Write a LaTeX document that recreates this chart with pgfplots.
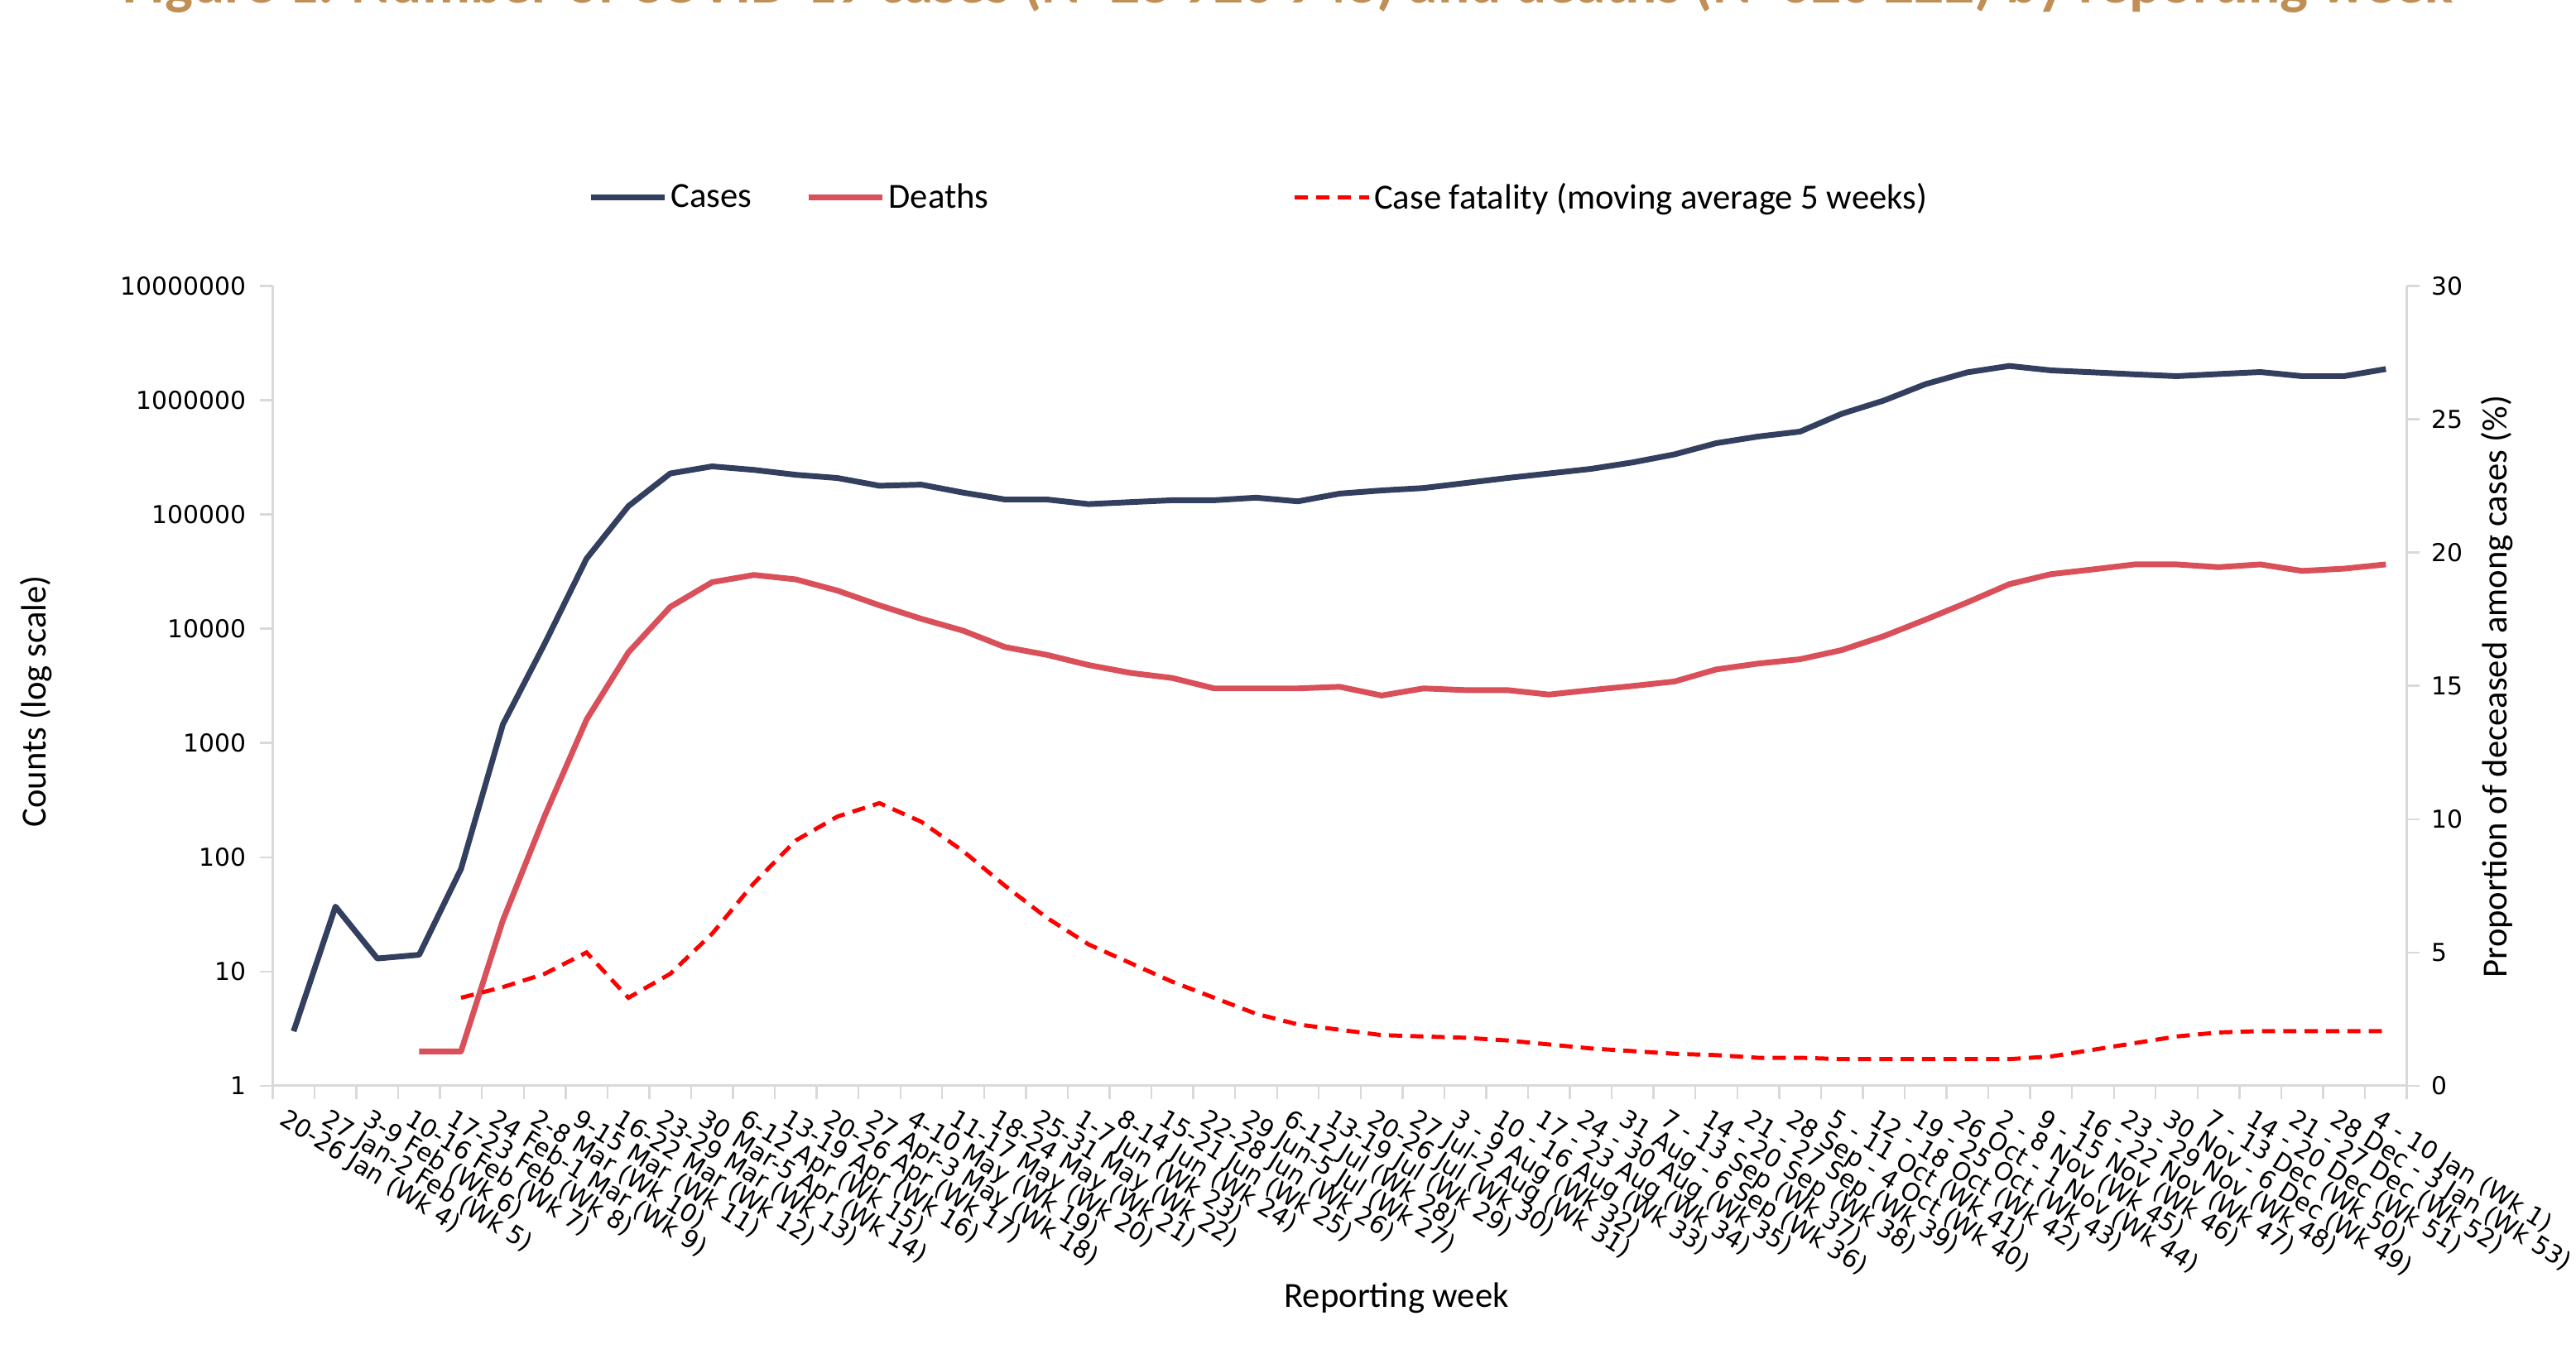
\documentclass[border=0pt]{standalone}
\usepackage{fontspec}
\setmainfont{Carlito}
\newfontfamily\dejavu{DejaVu Sans}
\usepackage{pgfplots}
\pgfplotsset{compat=1.18}
\usepackage{pgfplotstable}

\definecolor{casecol}{HTML}{323F5E}
\definecolor{deathcol}{HTML}{D9505A}
\definecolor{cfrcol}{HTML}{FF0000}
\definecolor{axisgray}{HTML}{D9D9D9}
\definecolor{titlecol}{HTML}{C08F55}

% week index (0 = Wk 4 ... 50 = Wk 1 of next year)
\pgfplotstableread{
x cases
0 3
1 37
2 13
3 14
4 79
5 1450
6 7400
7 41000
8 118000
9 228000
10 263000
11 245000
12 222000
13 208000
14 178000
15 182000
16 155000
17 135000
18 135000
19 123000
20 128000
21 133000
22 133000
23 140000
24 130000
25 152000
26 162000
27 170000
28 188000
29 208000
30 228000
31 250000
32 285000
33 335000
34 420000
35 480000
36 530000
37 760000
38 990000
39 1380000
40 1750000
41 1990000
42 1820000
43 1750000
44 1680000
45 1620000
46 1690000
47 1760000
48 1620000
49 1620000
50 1870000
}\casestable

\pgfplotstableread{
x deaths
3 2
4 2
5 28
6 230
7 1600
8 6200
9 15500
10 25500
11 29500
12 27000
13 21500
14 16000
15 12200
16 9600
17 6900
18 5900
19 4800
20 4100
21 3700
22 3000
23 3000
24 3000
25 3100
26 2600
27 3000
28 2900
29 2900
30 2650
31 2900
32 3150
33 3450
34 4400
35 4950
36 5400
37 6500
38 8600
39 12000
40 17000
41 24500
42 30000
43 33000
44 36500
45 36500
46 34500
47 36500
48 32000
49 33500
50 36500
}\deathstable

\pgfplotstableread{
x cfr
4 3.3
5 3.7
6 4.2
7 5.0
8 3.3
9 4.2
10 5.7
11 7.6
12 9.2
13 10.1
14 10.6
15 9.9
16 8.8
17 7.5
18 6.3
19 5.3
20 4.6
21 3.9
22 3.3
23 2.7
24 2.3
25 2.1
26 1.9
27 1.85
28 1.8
29 1.7
30 1.55
31 1.4
32 1.3
33 1.2
34 1.15
35 1.05
36 1.05
37 1.0
38 1.0
39 1.0
40 1.0
41 1.0
42 1.1
43 1.35
44 1.6
45 1.85
46 2.0
47 2.05
48 2.05
49 2.05
50 2.05
}\cfrtable

\pgfplotsset{
  base/.style={
    width=1299bp, height=487bp, scale only axis,
    xmin=-0.5, xmax=50.5,
    axis line style={draw=axisgray, line width=1.5bp},
    tick align=outside,
    major tick length=8bp,
    ytick style={draw=axisgray, line width=1.2bp},
    yticklabel style={font=\dejavu\fontsize{15bp}{18bp}\selectfont, inner sep=0pt},
  },
}

\begin{document}
\begin{tikzpicture}
\path[use as bounding box] (-166bp,-166bp) rectangle (1402bp,661bp);
\node[anchor=base, inner sep=0pt, text=titlecol,
      font=\fontsize{36bp}{42bp}\selectfont\bfseries] at (618bp,659bp)
  {Figure 1. Number of COVID-19 cases (N=28 926 948) and deaths (N=626 222) by reporting week};

\begin{axis}[base,
  ymode=log, ymin=1, ymax=10000000,
  ytick={1,10,100,1000,10000,100000,1000000,10000000},
  yticklabels={1,10,100,1000,10000,100000,1000000,10000000},
  yminorticks=false,
  yticklabel style={anchor=east, xshift=-8bp},
  axis x line*=bottom, axis y line*=left,
  xtick={0,...,50},
  xticklabels={20-26 Jan (Wk 4),27 Jan-2 Feb (Wk 5),3-9 Feb (Wk 6),10-16 Feb (Wk 7),17-23 Feb (Wk 8),24 Feb-1 Mar (Wk 9),2-8 Mar (Wk 10),9-15 Mar (Wk 11),16-22 Mar (Wk 12),23-29 Mar (Wk 13),30 Mar-5 Apr (Wk 14),6-12 Apr (Wk 15),13-19 Apr (Wk 16),20-26 Apr (Wk 17),27 Apr-3 May (Wk 18),4-10 May (Wk 19),11-17 May (Wk 20),18-24 May (Wk 21),25-31 May (Wk 22),1-7 Jun (Wk 23),8-14 Jun (Wk 24),15-21 Jun (Wk 25),22-28 Jun (Wk 26),29 Jun-5 Jul (Wk 27),6-12 Jul (Wk 28),13-19 Jul (Wk 29),20-26 Jul (Wk 30),27 Jul-2 Aug (Wk 31),3 - 9 Aug (Wk 32),10 - 16 Aug (Wk 33),17 - 23 Aug (Wk 34),24 - 30 Aug (Wk 35),31 Aug - 6 Sep (Wk 36),7 - 13 Sep (Wk 37),14 - 20 Sep (Wk 38),21 - 27 Sep (Wk 39),28 Sep - 4 Oct (Wk 40),5 - 11 Oct (Wk 41),12 - 18 Oct (Wk 42),19 - 25 Oct (Wk 43),26 Oct - 1 Nov (Wk 44),2 - 8 Nov (Wk 45),9 - 15 Nov (Wk 46),16 - 22 Nov (Wk 47),23 - 29 Nov (Wk 48),30 Nov - 6 Dec (Wk 49),7 - 13 Dec (Wk 50),14 - 20 Dec (Wk 51),21 - 27 Dec (Wk 52),28 Dec - 3 Jan (Wk 53),4 - 10 Jan (Wk 1)},
  major x tick style={draw=none},
  minor xtick={-0.5,0.5,...,50.5},
  minor x tick style={draw=axisgray, line width=1.2bp},
  minor tick length=8bp,
  xticklabel style={font=\dejavu\fontsize{15bp}{18bp}\selectfont, rotate=-32, anchor=north west, inner sep=0pt, yshift=-6bp},
  xlabel={Reporting week},
  xlabel style={font=\fontsize{21.5bp}{25bp}\selectfont, at={(axis description cs:0.5266,-0.2649)}, anchor=center},
  ylabel={Counts (log scale)},
  ylabel style={font=\fontsize{21.5bp}{25bp}\selectfont, at={(axis description cs:-0.1109,0.4805)}, anchor=center, rotate=0},
]
\addplot[casecol, line width=3.5bp, line join=round] table[x=x, y=cases] {\casestable};
\addplot[deathcol, line width=3.5bp, line join=round] table[x=x, y=deaths] {\deathstable};
\end{axis}

\begin{axis}[base,
  ymin=0, ymax=30,
  ytick={0,5,10,15,20,25,30},
  yticklabels={0,5,10,15,20,25,30},
  yticklabel style={anchor=west, xshift=7bp},
  axis y line*=right, hide x axis,
  ylabel={Proportion of deceased among cases (\%)},
  ylabel style={font=\fontsize{21.5bp}{25bp}\selectfont, at={(axis description cs:1.0423,0.499)}, anchor=center},
  legend columns=3,
  legend cell align=left,
  legend image code/.code={\draw[#1] (0bp,0bp) -- (45bp,0bp);},
  legend style={draw=none, fill=none, inner sep=0pt, outer sep=0pt,
    column sep=0pt, at={(axis description cs:0.1478,1.1109)}, anchor=west,
    nodes={inner sep=0pt, font=\fontsize{21.5bp}{25bp}\selectfont}},
]
\addlegendimage{casecol, line width=3.5bp}
\addlegendentry{\makebox[84bp][l]{\hspace{2bp}Cases}}
\addlegendimage{deathcol, line width=3.5bp}
\addlegendentry{\makebox[248bp][l]{\hspace{2bp}Deaths}}
\addplot[cfrcol, line width=2.5bp, dash pattern=on 8bp off 5bp] table[x=x, y=cfr] {\cfrtable};
\addlegendentry{\hspace{2bp}Case fatality (moving average 5 weeks)}
\end{axis}
\end{tikzpicture}
\end{document}
